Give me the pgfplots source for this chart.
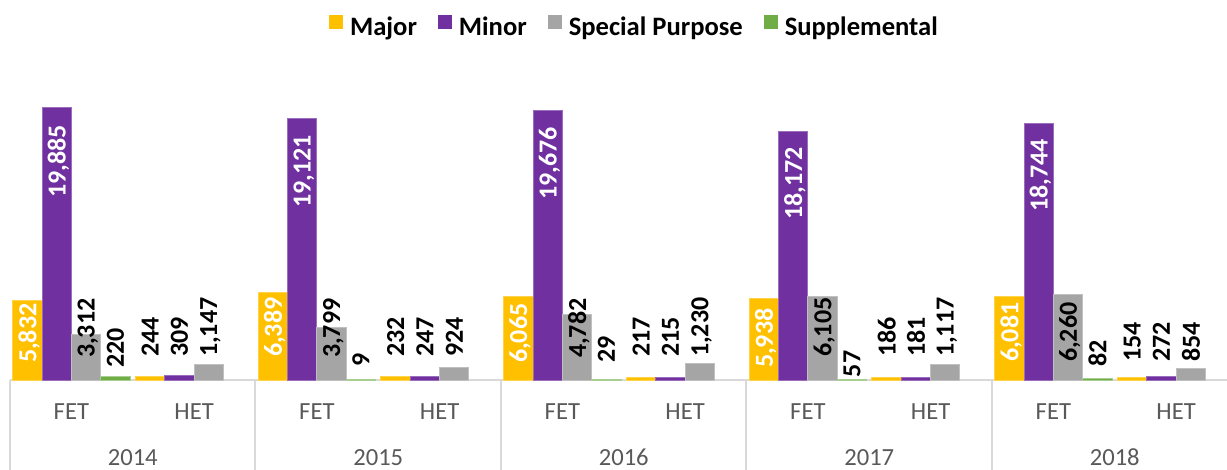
\documentclass[border=0pt]{standalone}
\usepackage{fontspec}
\setmainfont{Carlito}
\usepackage{graphicx}
\usepackage{pgfplots}
\pgfplotsset{compat=1.18}
\definecolor{cMajor}{HTML}{FFC000}
\definecolor{cMinor}{HTML}{7030A0}
\definecolor{cSpec}{HTML}{A5A5A5}
\definecolor{cSupp}{HTML}{70AD47}
\definecolor{gridgray}{HTML}{D9D9D9}
\definecolor{txtgray}{HTML}{595959}
\newcommand\lblfont{\bfseries\fontsize{13bp}{15bp}\selectfont}
\newcommand\legfont{\bfseries\fontsize{13.3bp}{16bp}\selectfont}
\newcommand\catfont{\fontsize{12.3bp}{14bp}\selectfont}
\newcommand\rotlbl[1]{\rotatebox{90}{\raisebox{0pt}[\height][0pt]{#1}}}
\pgfplotsset{
  mybar/.style={ybar, bar width=14.67bp, bar shift=#1, line width=0.5bp,
    legend image code/.code={\fill[##1, draw=none] (0bp,-0.8bp) rectangle (7bp,6.2bp);}},
  lbl/.style={ybar, bar width=14.67bp, bar shift=#1, draw=none, fill=none, forget plot,
    point meta=explicit,
    nodes near coords={\rotlbl{\pgfmathprintnumber[fixed, precision=0, 1000 sep={,}, assume math mode=true]{\pgfplotspointmeta}}},
    every node near coord/.append style={anchor=south, xshift=#1, inner sep=0pt, outer sep=0pt, font=\lblfont, text=black}},
  wlbl/.style={lbl=#1, every node near coord/.append style={text=white}},
}
\begin{document}
\begin{tikzpicture}
\begin{axis}[
  at={(5bp,45bp)}, anchor=south west,
  scale only axis, width=613.75bp, height=137bp,
  xmin=-0.5, xmax=9.5, ymin=0, ymax=20000,
  clip=false,
  axis y line=none,
  axis x line*=bottom,
  x axis line style={draw=gridgray, line width=1bp, -},
  xtick={0,...,9},
  xticklabels={FET,HET,FET,HET,FET,HET,FET,HET,FET,HET},
  major tick length=0pt,
  xticklabel style={font=\catfont, text=txtgray, anchor=base, yshift=-19.5bp, inner sep=0pt},
  extra x ticks={0.5,2.5,4.5,6.5,8.5},
  extra x tick labels={2014,2015,2016,2017,2018},
  extra x tick style={xticklabel style={yshift=-23bp}, major tick length=0pt},
  legend columns=4,
  legend style={draw=none, fill=none, at={(0.2599,1.288)}, anchor=west, font=\legfont,
    inner sep=0pt, outer sep=0pt,
    /tikz/every odd column/.append style={column sep=3.5bp},
    /tikz/every even column/.append style={column sep=10.5bp},
    nodes={inner sep=0pt}},
]
% bars
\addplot[mybar=-22bp, fill=cMajor, draw=cMajor!70!white] coordinates {(0,5832)(1,244)(2,6389)(3,232)(4,6065)(5,217)(6,5938)(7,186)(8,6081)(9,154)};
\addlegendentry{Major}
\addplot[mybar=-7.33bp, fill=cMinor, draw=cMinor!70!white] coordinates {(0,19885)(1,309)(2,19121)(3,247)(4,19676)(5,215)(6,18172)(7,181)(8,18744)(9,272)};
\addlegendentry{Minor}
\addplot[mybar=7.33bp, fill=cSpec, draw=cSpec!70!white] coordinates {(0,3312)(1,1147)(2,3799)(3,924)(4,4782)(5,1230)(6,6105)(7,1117)(8,6260)(9,854)};
\addlegendentry{Special Purpose}
\addplot[mybar=22bp, fill=cSupp, draw=cSupp!60!white] coordinates {(0,220)(2,9)(4,29)(6,57)(8,82)};
\addlegendentry{Supplemental}
% data labels: (category, label position) [value]
\addplot[wlbl=-22bp] coordinates {(0,1241)[5832] (2,1679)[6389] (4,1241)[6065] (6,876)[5938] (8,1314)[6081]};
\addplot[lbl=-22bp] coordinates {(1,1679)[244] (3,1679)[232] (5,1679)[217] (7,1679)[186] (9,1314)[154]};
\addplot[wlbl=-7.33bp] coordinates {(0,13286)[19885] (2,12556)[19121] (4,13140)[19676] (6,11680)[18172] (8,12264)[18744]};
\addplot[lbl=-7.33bp] coordinates {(1,1679)[309] (3,1679)[247] (5,1679)[215] (7,1679)[181] (9,1314)[272]};
\addplot[lbl=7.33bp] coordinates {(0,1606)[3312] (1,1679)[1147] (2,1606)[3799] (3,1679)[924] (4,1606)[4782] (5,1679)[1230] (6,1679)[6105] (7,1679)[1117] (8,1314)[6260] (9,1314)[854]};
\addplot[lbl=22bp] coordinates {(0,876)[220] (2,949)[9] (4,1241)[29] (6,219)[57] (8,949)[82]};
% year separators
\pgfplotsinvokeforeach{-0.5,1.5,3.5,5.5,7.5,9.5}{
  \draw[gridgray, line width=1bp] (axis cs:#1,0) -- ([yshift=-45bp]axis cs:#1,0);
}
\end{axis}
\pgfresetboundingbox
\path[use as bounding box] (0,0) rectangle (613.5bp,235bp);
\end{tikzpicture}
\end{document}
